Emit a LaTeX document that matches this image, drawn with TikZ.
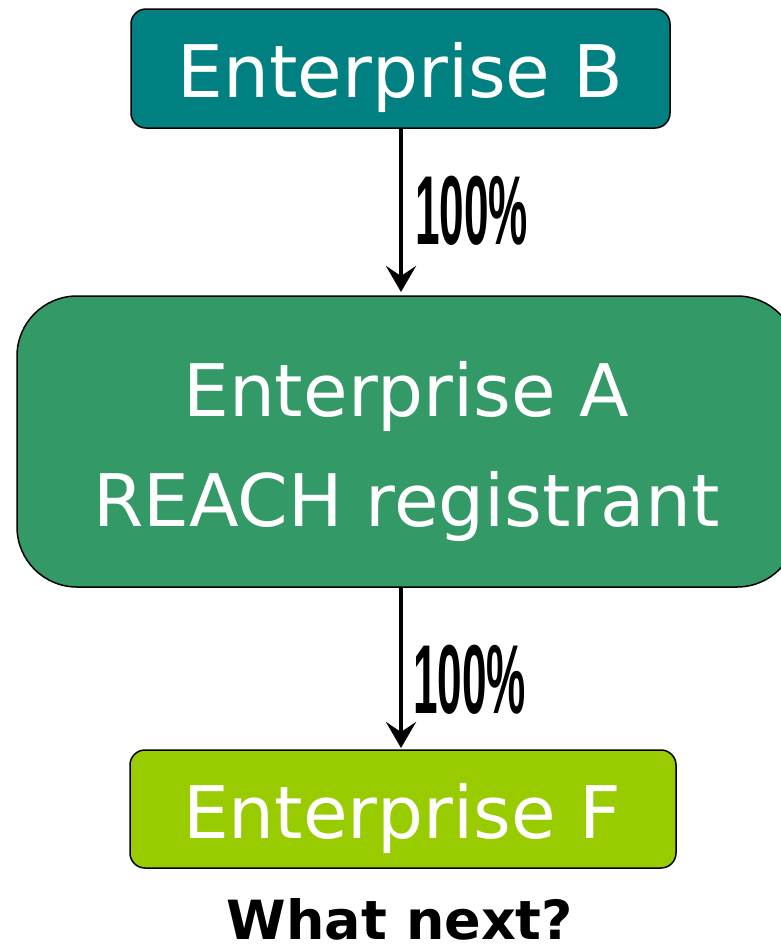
\documentclass[tikz,border=0pt]{standalone}
\usepackage{fontspec}
\setmainfont{DejaVu Sans}
\newfontfamily\pctfont{Liberation Sans}
\usetikzlibrary{arrows.meta}
\definecolor{tealB}{HTML}{008080}
\definecolor{greenA}{HTML}{339966}
\definecolor{limeF}{HTML}{99CC00}
\begin{document}
\begin{tikzpicture}[x=1pt,y=-1pt,
  entbox/.style={draw=black,line width=1.5pt,inner sep=0pt},
  boxtext/.style={anchor=base,inner sep=0pt,text=white,font=\fontsize{#1}{#1}\selectfont},
  flow/.style={line width=4pt,-{Stealth[length=26pt,width=30pt,inset=10pt]}},
  pct/.style={anchor=west,inner sep=0pt,font=\pctfont\bfseries\fontsize{98}{98}\selectfont}
]
\useasboundingbox (0,0) rectangle (781,946);
% enterprise boxes
\node[entbox,fill=tealB,rounded corners=15pt,minimum width=539pt,minimum height=119pt] (B) at (400.5,68.5) {};
\node[entbox,fill=greenA,rounded corners=60pt,minimum width=780pt,minimum height=291pt] (A) at (407,441.5) {};
\node[entbox,fill=limeF,rounded corners=15pt,minimum width=546pt,minimum height=118pt] (F) at (403,809) {};
% box labels
\node[boxtext=72.5] (tB) at (400.5,97) {Enterprise B};
\node[boxtext=72.5] (tA1) at (406,416) {Enterprise A};
\node[boxtext=72.5] (tA2) at (406.5,526) {REACH registrant};
\node[boxtext=72.5] (tF) at (402,838) {Enterprise F};
% ownership links
\draw[flow] (B.south -| 401,0) -- (401,292);
\draw[flow] (A.south -| 401,0) -- (401,748);
\node[pct] (p1) at (415,211) {\scalebox{0.45}[1]{100\%}};
\node[pct] (p2) at (413,680) {\scalebox{0.45}[1]{100\%}};
% question
\node[anchor=base,inner sep=0pt,font=\bfseries\fontsize{54}{54}\selectfont] (q) at (400,939) {What next?};
\end{tikzpicture}
\end{document}
